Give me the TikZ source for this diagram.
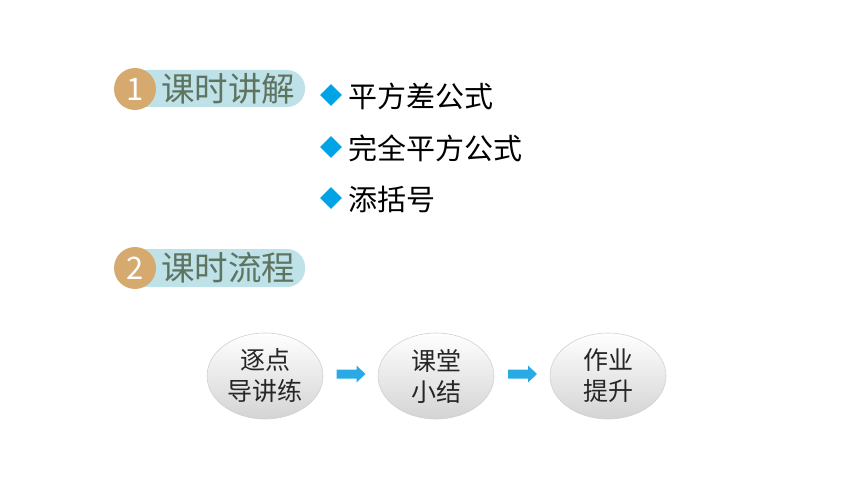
\documentclass[tikz,border=0pt]{standalone}
\usepackage{fontspec}
\newfontfamily\cjk{Noto Sans CJK SC}
\usetikzlibrary{shapes.geometric,calc}
\definecolor{pillc}{HTML}{BFE1E8}
\definecolor{circc}{HTML}{D6AA6E}
\definecolor{headc}{HTML}{5E7460}
\definecolor{bluec}{HTML}{00A3E6}
\definecolor{arrc}{HTML}{2AAAE4}
\tikzset{
  pill/.style={fill=pillc, rounded corners=18pt},
  numcirc/.style={circle, fill=circc, minimum size=42pt, inner sep=0pt, text=white, font=\cjk\fontsize{31}{31}\selectfont},
  headtxt/.style={anchor=west, text=headc, inner sep=0pt, font=\cjk\fontsize{33.5}{34}\selectfont},
  bullet/.style={diamond, fill=bluec, minimum size=22pt, inner sep=0pt},
  itemtxt/.style={anchor=west, text=black, inner sep=0pt, font=\cjk\fontsize{29}{29}\selectfont},
  stepell/.style={ellipse, minimum width=116pt, minimum height=86pt, top color=white, bottom color=black!17, draw=black!18, line width=0.6pt, align=center, inner sep=0pt, text=black!85, font=\cjk\fontsize{25}{31}\selectfont},
  blockarr/.style={fill=arrc}
}
\begin{document}
\begin{tikzpicture}[x=1pt,y=-1pt]
\useasboundingbox (0,0) rectangle (860,484);
% header 1
\fill[pill] (130,70) rectangle (305,107);
\node[numcirc] (n1) at (135,89) {1};
\node[headtxt] (h1) at (161,89) {课时讲解};
% items
\node[bullet] (b1) at (331,95) {};
\node[itemtxt] (i1) at (348,96) {平方差公式};
\node[bullet] (b2) at (331,147) {};
\node[itemtxt] (i2) at (348,148) {完全平方公式};
\node[bullet] (b3) at (331,198) {};
\node[itemtxt] (i3) at (348,199) {添括号};
% header 2
\fill[pill] (130,249) rectangle (305,287);
\node[numcirc] (n2) at (135,268) {2};
\node[headtxt] (h2) at (161,268) {课时流程};
% flow
\node[stepell] (e1) at (265,376) {逐点\\导讲练};
\node[stepell] (e2) at (436,376) {课堂\\小结};
\node[stepell] (e3) at (608,376) {作业\\提升};
\coordinate (m1) at ($(e1.east)!0.5!(e2.west)+(0,-2)$);
\coordinate (m2) at ($(e2.east)!0.5!(e3.west)+(0,-2)$);
\foreach \m in {m1,m2}{
  \fill[blockarr] ($(\m)+(-14,-4.5)$) -- ($(\m)+(6,-4.5)$) -- ($(\m)+(6,-8.5)$) -- ($(\m)+(15,0)$)
    -- ($(\m)+(6,8.5)$) -- ($(\m)+(6,4.5)$) -- ($(\m)+(-14,4.5)$) -- cycle;
}
\end{tikzpicture}
\end{document}
